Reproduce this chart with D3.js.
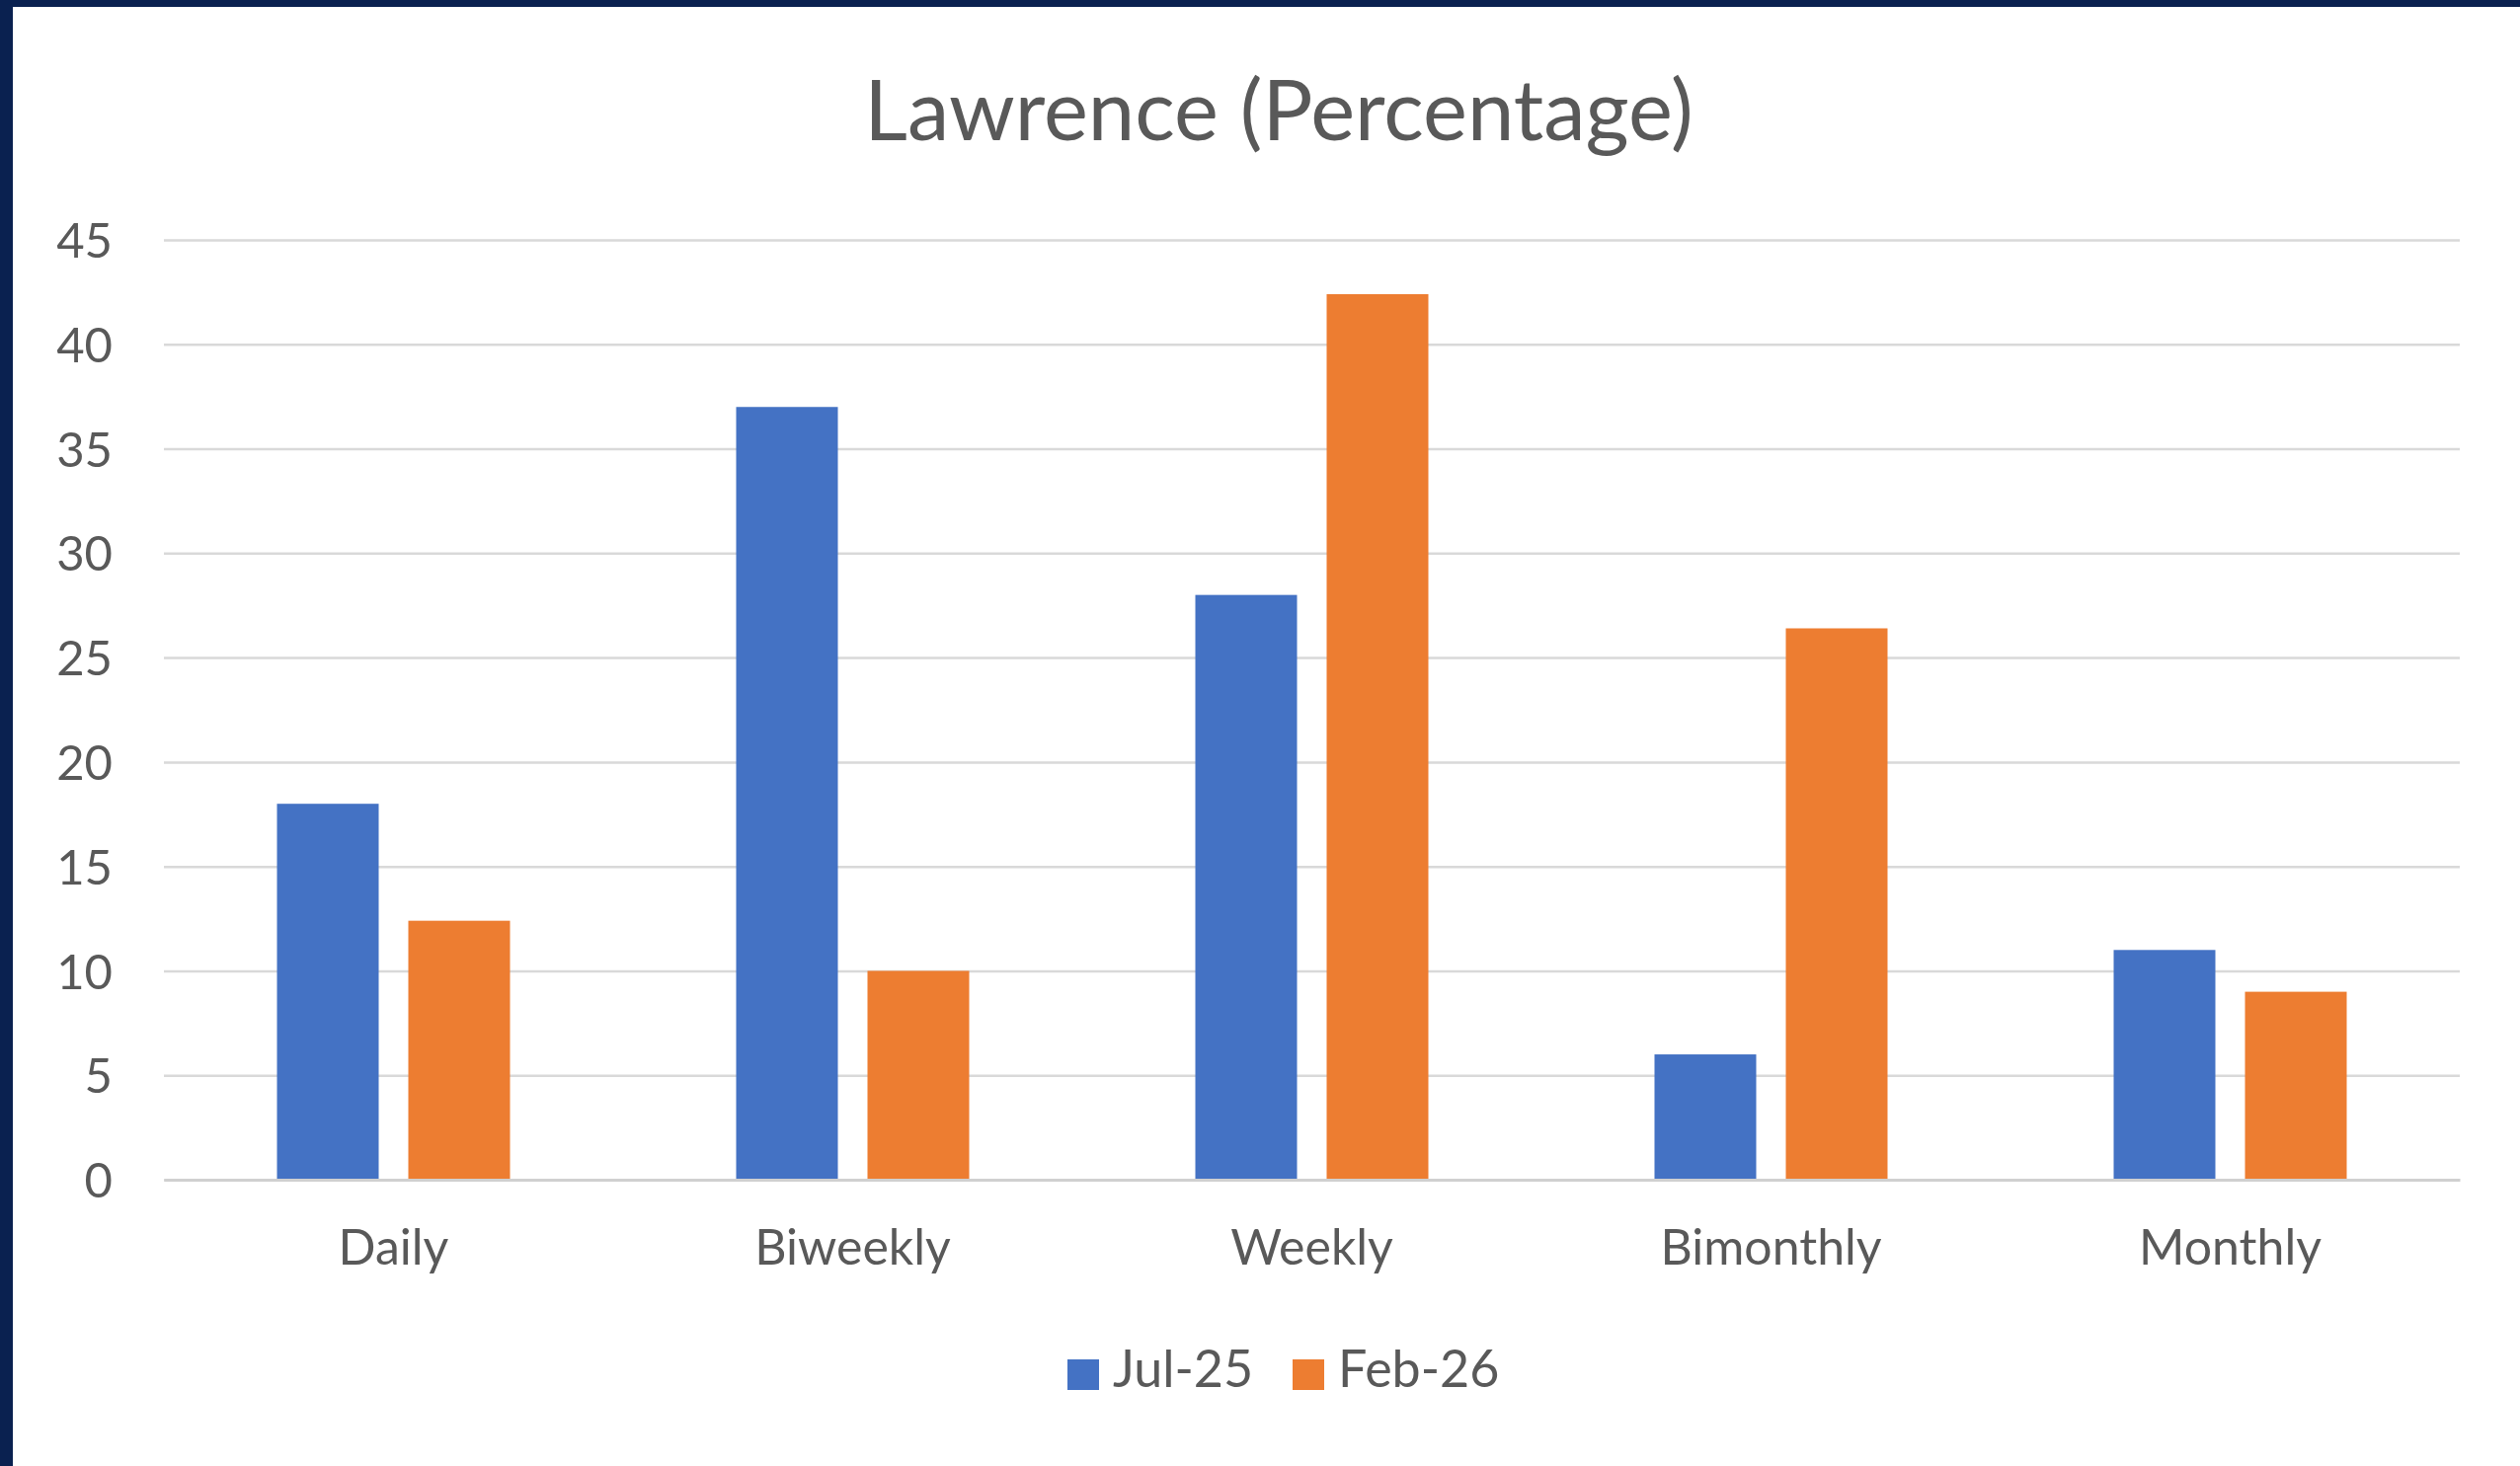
<!DOCTYPE html>
<html>
<head>
<meta charset="utf-8">
<script src="https://cdn.jsdelivr.net/npm/d3@7"></script>
<style>
  html, body { margin: 0; padding: 0; background: #ffffff; overflow: hidden; }
  svg { display: block; }
</style>
</head>
<body>
<script>
// Survey frequency shares for Lawrence, two survey waves
const categories = ["Daily", "Biweekly", "Weekly", "Bimonthly", "Monthly"];
const seriesNames = ["Jul-25", "Feb-26"];
const jul25 = [18, 37, 28, 6, 11];
const feb26 = [12.4, 10, 42.4, 26.4, 9];
const yTicks = [0, 5, 10, 15, 20, 25, 30, 35, 40, 45];
const chartTitle = "Lawrence (Percentage)";

const seriesValues = [jul25, feb26];
const colors = ["#4472C4", "#ED7D31"];

const W = 2552, H = 1485;
const plot = { left: 166, right: 2491, top: 243, bottom: 1195 };
const textColor = "#595959";
const fontFamily = "Lato, 'Open Sans', sans-serif";

const svg = d3.select("body").append("svg")
  .attr("width", W).attr("height", H);

svg.append("rect").attr("width", W).attr("height", H).attr("fill", "#ffffff");

// Navy frame along the top and left edges
svg.append("rect").attr("x", 0).attr("y", 0).attr("width", W).attr("height", 7).attr("fill", "#0a2150");
svg.append("rect").attr("x", 0).attr("y", 0).attr("width", 13).attr("height", H).attr("fill", "#0a2150");

const x0 = d3.scaleBand().domain(categories).range([plot.left, plot.right]).padding(0);
const groupWidth = 236;
const x1 = d3.scaleBand().domain(seriesNames)
  .range([0, groupWidth]).paddingInner(30 / 133).paddingOuter(0);
const y = d3.scaleLinear().domain([0, 45]).range([plot.bottom, plot.top]);

// Horizontal gridlines and value labels
const yAxis = d3.axisLeft(y).tickValues(yTicks).tickSize(-(plot.right - plot.left)).tickPadding(52).tickFormat(d3.format("d"));
const gy = svg.append("g").attr("transform", `translate(${plot.left},0)`).call(yAxis);
gy.select(".domain").remove();
gy.selectAll(".tick line").attr("stroke", "#d9d9d9").attr("stroke-width", 2.5);
gy.selectAll(".tick text")
  .attr("fill", textColor).attr("font-family", fontFamily).attr("font-size", 49)
  .attr("dy", "0.36em");

// Clustered bars
const groups = svg.append("g").selectAll("g")
  .data(categories)
  .join("g")
  .attr("transform", d => `translate(${x0(d) + (x0.bandwidth() - groupWidth) / 2},0)`);

groups.selectAll("rect")
  .data((d, i) => seriesNames.map((s, j) => ({ series: s, value: seriesValues[j][i], color: colors[j] })))
  .join("rect")
  .attr("x", d => x1(d.series))
  .attr("width", x1.bandwidth())
  .attr("y", d => y(d.value))
  .attr("height", d => y(0) - y(d.value))
  .attr("fill", d => d.color);

// Category axis
const xAxis = d3.axisBottom(x0).tickSize(0).tickPadding(0);
const gx = svg.append("g").attr("transform", `translate(0,${plot.bottom})`).call(xAxis);
gx.select(".domain").attr("stroke", "#d0d0d0").attr("stroke-width", 3);
gx.selectAll(".tick text")
  .attr("fill", textColor).attr("font-family", fontFamily).attr("font-size", 50)
  .attr("y", 86).attr("dy", 0);

// Title
svg.append("text")
  .attr("x", 1295).attr("y", 142)
  .attr("text-anchor", "middle")
  .attr("fill", textColor).attr("font-family", fontFamily).attr("font-size", 85)
  .text(chartTitle);

// Legend
const legendItems = [
  { name: seriesNames[0], color: colors[0], x: 1081 },
  { name: seriesNames[1], color: colors[1], x: 1309 }
];
const lg = svg.append("g").selectAll("g").data(legendItems).join("g")
  .attr("transform", d => `translate(${d.x},1377)`);
lg.append("rect").attr("width", 32).attr("height", 31).attr("fill", d => d.color);
lg.append("text").attr("x", 46).attr("y", 28)
  .attr("fill", textColor).attr("font-family", fontFamily).attr("font-size", 52)
  .text(d => d.name);
</script>
</body>
</html>
